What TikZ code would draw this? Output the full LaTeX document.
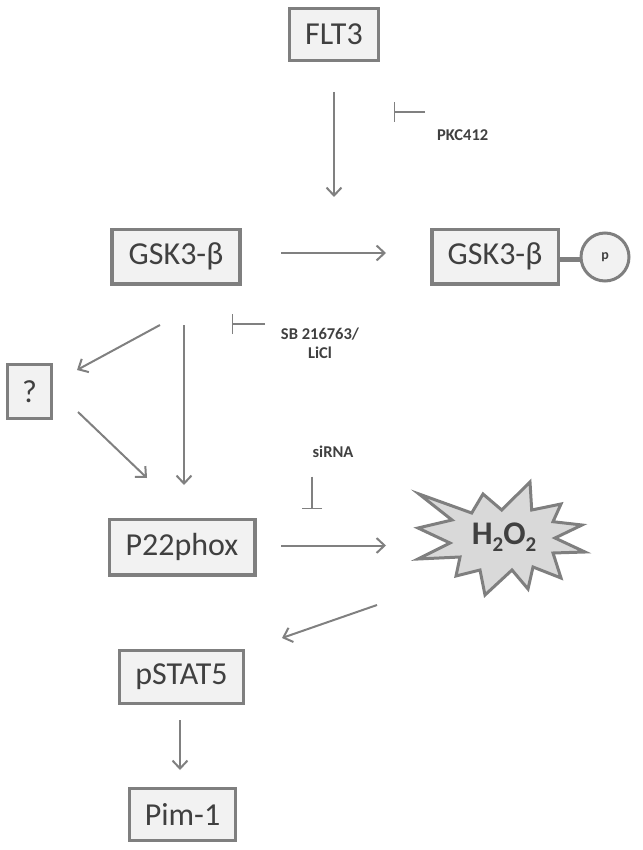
\documentclass[tikz,border=0pt]{standalone}
\usepackage{fontspec}
\setmainfont{Carlito}
\usetikzlibrary{arrows.meta}
\definecolor{boxline}{HTML}{7F7F7F}
\definecolor{boxfill}{HTML}{F2F2F2}
\definecolor{txt}{HTML}{404040}
\definecolor{arr}{HTML}{808080}
\definecolor{starfill}{HTML}{D9D9D9}
\begin{document}
\begin{tikzpicture}[x=1pt,y=-1pt,
  prot/.style={draw=boxline, fill=boxfill, line width=3.5pt, text=txt,
    font=\fontsize{32}{32}\selectfont, inner sep=0pt, rectangle},
  lbl/.style={text=txt, font=\bfseries\fontsize{16.5}{19}\selectfont, inner sep=0pt, align=center},
  act/.style={draw=arr, line width=2pt, -{Straight Barb[length=8pt,width=15pt,line width=2pt]}},
  inh/.style={draw=arr, line width=1.4pt, -{Bar[width=20pt,line width=1.4pt]}}
]
\useasboundingbox (0,0) rectangle (642,850);

% protein boxes
\node[prot, minimum width=89pt, minimum height=52pt] (flt3) at (334,34.5) {FLT3};
\node[prot, minimum width=128pt, minimum height=54.5pt] (gskL) at (176,256.5) {GSK3-β};
\node[prot, minimum width=126.5pt, minimum height=54.5pt] (gskR) at (495,256.5) {GSK3-β};
\node[draw=boxline, fill=boxfill, line width=3pt, circle, minimum size=48pt, inner sep=0pt,
  text=txt, font=\bfseries\fontsize{14}{14}\selectfont] (p) at (605,257) {p};
\draw[draw=boxline, line width=5pt] (gskR.east |- 0,259) -- (p.west |- 0,259);
\node[prot, minimum width=44pt, minimum height=54pt] (q) at (29.5,391.5) {?};
\node[prot, minimum width=145.5pt, minimum height=55.5pt] (p22) at (182,547) {P22phox};
\node[prot, minimum width=124pt, minimum height=53pt] (stat) at (181.5,677) {pSTAT5};
\node[prot, minimum width=106pt, minimum height=52pt] (pim) at (182.5,814.5) {Pim-1};

% H2O2 starburst
\draw[draw=boxline, fill=starfill, line width=3pt, line join=miter]
  (419,494) -- (471.7,513) -- (483,494) -- (501.7,510) -- (530,482) -- (531.7,510)
  -- (561,504) -- (553,521.7) -- (582,525) -- (555,538) -- (585,552) -- (553,553)
  -- (561,578) -- (533,567) -- (528,589) -- (512,570) -- (485,595) -- (480,570)
  -- (456,576) -- (460,557) -- (418,559) -- (450,543) -- (418,528) -- (452,520) -- cycle;
\node[text=txt, font=\bfseries\fontsize{33}{33}\selectfont, inner sep=0pt, anchor=base] (h2o2) at (504,544)
  {H\raisebox{-0.22em}{\fontsize{21}{21}\selectfont 2}O\raisebox{-0.22em}{\fontsize{21}{21}\selectfont 2}};

% inhibitor labels
\node[lbl, anchor=west] (pkc) at (437,135) {PKC412};
\node[lbl] (sb) at (320,343) {SB 216763/\\LiCl};
\node[lbl] (sirna) at (333,452) {siRNA};

% arrow end points
\coordinate (a1s) at (334,92);  \coordinate (a1e) at (334,197);
\coordinate (a2s) at (281,253); \coordinate (a2e) at (386,253);
\coordinate (a3s) at (160,325); \coordinate (a3e) at (77,370);
\coordinate (a4s) at (184,325); \coordinate (a4e) at (184,485);
\coordinate (a5s) at (78,412);  \coordinate (a5e) at (147,478);
\coordinate (a6s) at (281,545.5); \coordinate (a6e) at (386,545.5);
\coordinate (a7s) at (377,605); \coordinate (a7e) at (282,638);
\coordinate (a8s) at (180,720); \coordinate (a8e) at (180,770);

\draw[act] (a1s) -- (a1e);
\draw[act] (a2s) -- (a2e);
\draw[act] (a3s) -- (a3e);
\draw[act] (a4s) -- (a4e);
\draw[act] (a5s) -- (a5e);
\draw[act] (a6s) -- (a6e);
\draw[act] (a7s) -- (a7e);
\draw[act] (a8s) -- (a8e);

% inhibitor bars
\coordinate (i1s) at (425,112); \coordinate (i1e) at (394,112);
\coordinate (i2s) at (265,324); \coordinate (i2e) at (232,324);
\coordinate (i3s) at (312,476.5); \coordinate (i3e) at (312,509);
\draw[inh] (i1s) -- (i1e);
\draw[inh] (i2s) -- (i2e);
\draw[inh] (i3s) -- (i3e);
\end{tikzpicture}
\end{document}
